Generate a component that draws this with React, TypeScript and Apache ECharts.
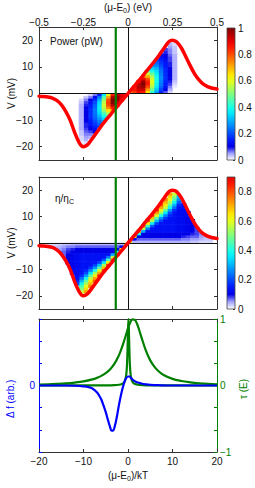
import React, { useEffect, useRef } from 'react';
import * as echarts from 'echarts';

// ---------- tick values / labels ----------
const kTTicks = [-20, -10, 0, 10, 20];
const eVTicks = [-0.5, -0.25, 0, 0.25, 0.5];
const vTicks = [-20, -10, 0, 10, 20];
const dfTicks = [-1, -2 / 3, -1 / 3, 0, 1 / 3, 2 / 3, 1];
const dfLabels = [0];
const tauLabels = [-1, 0, 1];
const cbTicksPower = [0, 0.2, 0.4, 0.6, 0.8, 1];
const cbTicksEta = [0, 0.2, 0.4, 0.6, 0.8];
const VMIN = -25;
const VMAX = 25;

// ---------- red open-circuit voltage curve (x in kT, V in mV) ----------
const redX = [-20, -19, -18, -17, -16, -15, -14, -13, -12, -11, -10.5, -10, -9.5, -9, -8, -7, -6, -5, -4, -3, -2, -1, 0, 1, 2, 3, 4, 5, 6, 7, 8, 9, 9.5, 10, 10.5, 11, 12, 13, 14, 15, 16, 17, 18, 19, 20];
const redV = [-1.0, -1.1, -1.3, -1.7, -2.6, -4.2, -6.7, -10.0, -14.6, -18.4, -19.6, -20.0, -19.7, -19.1, -16.9, -14.6, -12.2, -10.1, -8.1, -6.0, -4.0, -2.0, 0, 2.0, 4.0, 6.0, 8.1, 10.1, 12.2, 14.4, 16.8, 19.1, 19.8, 20.0, 19.8, 19.3, 17.1, 13.8, 10.4, 7.3, 5.0, 3.4, 2.5, 2.0, 1.7];
const greenLineX = -2.75;

// ---------- bottom panel ----------
const dfX = [-20, -14, -12, -10, -9, -8, -7, -6.5, -6, -5.5, -5, -4.5, -4, -3.7, -3.4, -3, -2.5, -2, -1.5, -1, -0.5, 0, 0.3, 0.6, 1, 1.5, 2, 3, 4, 5, 7, 10, 20];
const dfY = [0, 0, -0.004, -0.013, -0.022, -0.045, -0.1, -0.15, -0.21, -0.3, -0.4, -0.52, -0.63, -0.68, -0.68, -0.62, -0.47, -0.28, -0.12, 0.01, 0.1, 0.135, 0.135, 0.118, 0.09, 0.065, 0.048, 0.03, 0.018, 0.01, 0.004, 0, 0];
const tauBroadX = [-20, -18, -16, -14, -12, -10, -8, -7, -6, -5, -4, -3, -2, -1.5, -1, -0.5, 0, 0.5, 1, 1.5, 2, 2.5, 3, 4, 5, 6, 7, 8, 10, 12, 14, 16, 18, 20];
const tauBroadY = [0.015, 0.018, 0.024, 0.032, 0.044, 0.062, 0.092, 0.115, 0.145, 0.186, 0.245, 0.332, 0.461, 0.546, 0.644, 0.752, 0.859, 0.947, 0.995, 0.99, 0.932, 0.838, 0.73, 0.528, 0.378, 0.276, 0.207, 0.159, 0.1, 0.068, 0.048, 0.034, 0.024, 0.018];
const tauNarrowX = [-20, -5, -3, -2, -1.5, -1, -0.7, -0.5, -0.4, -0.3, -0.2, -0.1, 0, 0.1, 0.2, 0.3, 0.4, 0.5, 0.6, 0.7, 0.9, 1.2, 1.6, 2.2, 3.2, 5, 20];
const tauNarrowY = [0, 0.002, 0.005, 0.011, 0.018, 0.038, 0.07, 0.12, 0.16, 0.23, 0.35, 0.55, 0.83, 1.0, 0.83, 0.55, 0.35, 0.23, 0.16, 0.12, 0.07, 0.038, 0.021, 0.011, 0.005, 0.002, 0];

// ---------- heat maps: columns of 1 kT, rows of 1 mV, values in % ----------
// power, x>0, V>0 (column k = [k,k+1] kT, row j = [j,j+1] mV)
const powerUp = [
  [72],
  [82, 86, 85],
  [88, 92, 95, 95, 90],
  [85, 92, 97, 100, 98, 90, 78],
  [65, 72, 80, 85, 85, 80, 70, 58, 47],
  [42, 48, 54, 58, 60, 58, 54, 48, 40, 33, 27],
  [28, 32, 36, 38, 40, 40, 39, 37, 34, 30, 26, 23, 20],
  [16, 19, 22, 24, 25, 26, 26, 25, 24, 22, 20, 18, 16, 14, 12],
  [7, 10, 13, 15, 16, 17, 17, 17, 16, 16, 15, 14, 13, 11, 10, 9, 8],
  [2, 4, 6, 8, 9, 10, 10, 10, 10, 10, 9, 9, 8, 8, 7, 6, 6, 5, 4],
  [0, 0, 1, 2, 3, 4, 4, 4, 4, 4, 4, 4, 4, 4, 4, 3, 3, 3, 2],
];
// power, x<0, V<0 (column k = [-(k+1),-k], row j = [-(j+1),-j])
const powerDown = [
  [85],
  [90, 92, 90],
  [95, 98, 98, 95, 88],
  [85, 95, 100, 100, 95, 85, 72],
  [60, 72, 80, 82, 80, 74, 65, 55, 45],
  [35, 45, 52, 56, 58, 56, 52, 46, 40, 34, 28],
  [15, 24, 30, 34, 36, 37, 36, 34, 31, 28, 25, 22, 19],
  [6, 12, 17, 20, 22, 23, 24, 24, 23, 22, 20, 18, 16, 13, 10],
  [2, 6, 10, 13, 15, 16, 17, 17, 17, 16, 15, 14, 12, 10, 8, 6, 4],
  [0, 3, 6, 8, 9, 10, 10, 10, 10, 10, 10, 9, 9, 8, 7, 6, 5, 4, 2],
  [0, 0, 2, 3, 4, 4, 4, 4, 4, 4, 4, 4, 4, 4, 3, 3, 2, 2, 1],
];
// efficiency eta/etaC, x>0, V>0
const etaUp = [
  [60],
  [4, 12, 63],
  [4, 7, 10, 40, 75],
  [4, 7, 10, 10, 29, 56, 79],
  [4, 7, 10, 10, 13, 24, 44, 63, 81],
  [4, 7, 10, 10, 13, 13, 21, 36, 54, 69, 82],
  [4, 7, 10, 10, 13, 13, 13, 19, 31, 46, 59, 72, 84],
  [4, 7, 10, 10, 13, 13, 13, 13, 19, 27, 40, 53, 63, 72, 79],
  [4, 7, 10, 10, 13, 13, 13, 13, 13, 18, 25, 35, 47, 57, 64, 70, 75],
  [4, 7, 10, 10, 13, 13, 13, 13, 13, 13, 16, 20, 28, 38, 47, 54, 60, 66, 72],
  [4, 7, 10, 10, 13, 13, 13, 13, 13, 13, 13, 14, 17, 23, 30, 38, 45, 50, 57],
  [4, 7, 10, 10, 12, 12, 12, 12, 12, 12, 12, 12, 12, 13, 16, 21, 26, 31],
  [4, 6, 9, 10, 12, 12, 12, 12, 12, 12, 12, 12, 12, 13, 14],
  [4, 6, 8, 10, 11, 11, 11, 11, 11, 11, 11, 11],
  [3, 5, 7, 9, 10, 10, 10, 10, 10],
  [3, 5, 7, 8, 8, 8],
  [2, 4, 5, 6],
  [2, 3, 4],
  [2, 3],
];
// efficiency eta/etaC, x<0, V<0
const etaDown = [
  [60],
  [4, 12, 63],
  [4, 7, 10, 40, 75],
  [4, 7, 10, 10, 29, 56, 79],
  [4, 7, 10, 10, 13, 24, 44, 63, 81],
  [4, 7, 10, 10, 13, 13, 21, 36, 54, 69, 82],
  [4, 7, 10, 10, 13, 13, 13, 19, 31, 46, 59, 72, 84],
  [4, 7, 10, 10, 13, 13, 13, 13, 19, 27, 40, 53, 63, 72, 79],
  [4, 7, 10, 10, 13, 13, 13, 13, 13, 18, 25, 35, 47, 57, 64, 70, 75],
  [4, 7, 10, 10, 13, 13, 13, 13, 13, 13, 16, 20, 28, 38, 47, 54, 60, 66, 72],
  [4, 7, 10, 10, 13, 13, 13, 13, 13, 13, 13, 14, 17, 23, 30, 38, 45, 50, 57],
  [4, 7, 10, 10, 12, 12, 12, 12, 12, 12, 12, 12, 12, 13, 16, 20],
  [4, 6, 9, 10, 11, 11, 11, 11, 11, 11, 11, 12],
  [3, 6, 8, 9, 10, 10, 10, 10],
  [3, 5, 6, 7, 7],
  [2, 4, 5],
  [2, 3],
  [2],
];

// jet-like colormap with a white low end, stops every 0.05 from 0 to 1
const CMAP = ['#ffffff', '#a0a0ff', '#0000e6', '#001aff', '#004cff', '#0080ff', '#00b3ff', '#00e6ff', '#1affe6', '#4dffb3', '#80ff80', '#b3ff4d', '#e6ff1a', '#ffe600', '#ffb300', '#ff8000', '#ff4d00', '#ff1a00', '#e60000', '#b30000', '#800000'];

const FONT = '"Liberation Sans", Arial, Helvetica, sans-serif';
const AXC = '#333333';
const TXT = '#111111';
const BLUE = '#0000ff';
const GREEN = '#008000';

function hexRgb(c: string) {
  return [parseInt(c.slice(1, 3), 16), parseInt(c.slice(3, 5), 16), parseInt(c.slice(5, 7), 16)];
}
function cmap(v: number) {
  const t = Math.max(0, Math.min(1, v)) * (CMAP.length - 1);
  const i = Math.min(Math.floor(t), CMAP.length - 2);
  const f = t - i;
  const a = hexRgb(CMAP[i]);
  const b = hexRgb(CMAP[i + 1]);
  return 'rgb(' + a.map((x, k) => Math.round(x + (b[k] - x) * f)).join(',') + ')';
}

function cells(cols: number[][], sx: number, sy: number) {
  const out: number[][] = [];
  cols.forEach((col, k) =>
    col.forEach((p, j) => {
      if (p <= 0) return;
      const xa = sx * k, xb = sx * (k + 1), va = sy * j, vb = sy * (j + 1);
      out.push([Math.min(xa, xb), Math.max(xa, xb), Math.min(va, vb), Math.max(va, vb), p / 100]);
    })
  );
  return out;
}

const fmt = (v: number) => {
  if (Math.abs(v) < 1e-9) return '0';
  return String(Math.round(v * 1000) / 1000).replace('-', '\u2212');
};

function axis(p: any) {
  const color = p.color || AXC;
  const a: any = {
    type: 'value',
    gridIndex: p.grid,
    position: p.pos,
    min: p.min,
    max: p.max,
    show: p.show !== false,
    splitLine: { show: false },
    axisLine: { show: p.line !== false, onZero: false, lineStyle: { color, width: 1 } },
    axisTick: { show: !!p.ticks, inside: true, length: p.tickLen || 3, customValues: p.ticks, lineStyle: { color, width: 1 } },
    axisLabel: { show: !!p.labels, customValues: p.labels, margin: p.margin ?? 4, color: p.labelColor || TXT, fontSize: 10, fontFamily: FONT, formatter: fmt },
  };
  if (p.name) {
    const nc = p.nameColor || TXT;
    a.name = p.name;
    a.nameLocation = 'middle';
    a.nameGap = p.nameGap;
    a.nameRotate = p.nameRotate;
    a.nameMoveOverlap = false;
    a.nameTextStyle = {
      color: nc, fontSize: 10, fontFamily: FONT,
      rich: { s: { fontSize: 7, fontFamily: FONT, color: nc, padding: [6, 0, 0, 0] } },
    };
  }
  return a;
}

function cellRender(_params: any, api: any) {
  const a = api.coord([api.value(0), api.value(3)]);
  const b = api.coord([api.value(1), api.value(2)]);
  return {
    type: 'rect',
    shape: { x: a[0] - 0.3, y: a[1] - 0.3, width: b[0] - a[0] + 0.6, height: b[1] - a[1] + 0.6 },
    style: { fill: cmap(api.value(4)) },
  };
}

function barRender(max: number, colors: string[]) {
  return (_params: any, api: any) => {
    const a = api.coord([0, max]);
    const b = api.coord([1, 0]);
    const stops = colors.map((c, i) => ({ offset: i / (colors.length - 1), color: c }));
    return {
      type: 'rect',
      shape: { x: a[0], y: a[1], width: b[0] - a[0], height: b[1] - a[1] },
      style: { fill: new echarts.graphic.LinearGradient(0, 1, 0, 0, stops), stroke: '#444', lineWidth: 0.8 },
    };
  };
}

// rotated (bottom-to-top) label whose text starts at (x, yStart)
function rotatedLabel(text: string, x: number, yStart: number, color: string) {
  return {
    type: 'text', x, y: yStart, rotation: Math.PI / 2, z: 100,
    style: {
      text, fontSize: 10, fontFamily: FONT, fill: color,
      align: 'left', verticalAlign: 'middle', textAlign: 'left', textVerticalAlign: 'middle',
    },
  };
}

function buildOption(): any {
  const heatPower = cells(powerUp, 1, 1).concat(cells(powerDown, -1, -1));
  const heatEta = cells(etaUp, 1, 1).concat(cells(etaDown, -1, -1));
  const red = redX.map((x, i) => [x, redV[i]]);
  const zeroLines = {
    silent: true,
    symbol: ['none', 'none'],
    label: { show: false },
    lineStyle: { color: '#111', width: 1, type: 'solid' },
    data: [{ xAxis: 0 }, { yAxis: 0 }],
  };
  const redSeries = (xi: number, yi: number) => ({
    type: 'line', xAxisIndex: xi, yAxisIndex: yi, data: red, showSymbol: false, smooth: 0.3,
    lineStyle: { color: '#ff0000', width: 3.5, cap: 'round' }, z: 10, silent: true, markLine: zeroLines,
  });
  const greenV = (xi: number, yi: number) => ({
    type: 'line', xAxisIndex: xi, yAxisIndex: yi, data: [[greenLineX, VMIN], [greenLineX, VMAX]], showSymbol: false,
    lineStyle: { color: GREEN, width: 2.2 }, z: 12, silent: true,
  });

  return {
    animation: false,
    backgroundColor: '#ffffff',
    textStyle: { fontFamily: FONT },
    grid: [
      { left: 39, top: 27, width: 178, height: 133, outerBoundsMode: 'none' },
      { left: 39, top: 177, width: 178, height: 132, outerBoundsMode: 'none' },
      { left: 39, top: 319, width: 178, height: 133, outerBoundsMode: 'none' },
      { left: 227, top: 28, width: 8, height: 132, outerBoundsMode: 'none' },
      { left: 227, top: 177, width: 8, height: 132, outerBoundsMode: 'none' },
    ],
    xAxis: [
      axis({ grid: 0, pos: 'bottom', min: -20, max: 20, ticks: kTTicks }),
      axis({ grid: 0, pos: 'top', min: -0.5, max: 0.5, ticks: eVTicks, labels: eVTicks, margin: 0, name: '(μ-E{s|0}) (eV)', nameGap: 13 }),
      axis({ grid: 1, pos: 'bottom', min: -20, max: 20, ticks: kTTicks }),
      axis({ grid: 1, pos: 'top', min: -20, max: 20, ticks: kTTicks }),
      axis({ grid: 2, pos: 'bottom', min: -20, max: 20, ticks: kTTicks, labels: kTTicks, margin: 4, name: '(μ-E{s|0})/kT', nameGap: 17 }),
      axis({ grid: 2, pos: 'top', min: -20, max: 20, ticks: kTTicks }),
      axis({ grid: 3, pos: 'bottom', min: 0, max: 1, show: false }),
      axis({ grid: 4, pos: 'bottom', min: 0, max: 1, show: false }),
    ],
    yAxis: [
      axis({ grid: 0, pos: 'left', min: VMIN, max: VMAX, ticks: vTicks, labels: vTicks, margin: 6, name: 'V (mV)', nameGap: 23, nameRotate: 90 }),
      axis({ grid: 0, pos: 'right', min: VMIN, max: VMAX, ticks: vTicks }),
      axis({ grid: 1, pos: 'left', min: VMIN, max: VMAX, ticks: vTicks, labels: vTicks, margin: 6, name: 'V (mV)', nameGap: 23, nameRotate: 90 }),
      axis({ grid: 1, pos: 'right', min: VMIN, max: VMAX, ticks: vTicks }),
      axis({ grid: 2, pos: 'left', min: -1, max: 1, ticks: dfTicks, labels: dfLabels, margin: 4, color: BLUE, labelColor: BLUE }),
      axis({ grid: 2, pos: 'right', min: -1, max: 1, ticks: dfTicks, labels: tauLabels, margin: 3, color: GREEN, labelColor: GREEN }),
      axis({ grid: 3, pos: 'right', min: 0, max: 1, ticks: cbTicksPower, labels: cbTicksPower, margin: 3, line: false, tickLen: 2 }),
      axis({ grid: 4, pos: 'right', min: 0, max: 0.9, ticks: cbTicksEta, labels: cbTicksEta, margin: 3, line: false, tickLen: 2 }),
    ],
    graphic: [
      { type: 'text', left: 50, top: 36, z: 100, style: { text: 'Power (pW)', fontSize: 10, fontFamily: FONT, fill: TXT } },
      {
        type: 'text', left: 55, top: 193, z: 100,
        style: {
          text: '{a|η/η}{s|C}', fill: TXT,
          rich: { a: { fontSize: 10, fontFamily: FONT, fill: TXT }, s: { fontSize: 7, fontFamily: FONT, fill: TXT, padding: [6, 0, 0, 0] } },
        },
      },
      rotatedLabel('Δ f (arb.)', 10, 418, BLUE),
      rotatedLabel('τ (E)', 243, 399, GREEN),
    ],
    series: [
      { type: 'custom', xAxisIndex: 0, yAxisIndex: 0, data: heatPower, renderItem: cellRender, silent: true, z: 1, encode: { x: [0, 1], y: [2, 3] } },
      { type: 'custom', xAxisIndex: 2, yAxisIndex: 2, data: heatEta, renderItem: cellRender, silent: true, z: 1, encode: { x: [0, 1], y: [2, 3] } },
      redSeries(0, 0),
      redSeries(2, 2),
      greenV(0, 0),
      greenV(2, 2),
      { type: 'custom', xAxisIndex: 6, yAxisIndex: 6, data: [[0, 0]], renderItem: barRender(1, CMAP), silent: true, z: 1 },
      { type: 'custom', xAxisIndex: 7, yAxisIndex: 7, data: [[0, 0]], renderItem: barRender(0.9, CMAP.slice(0, 19)), silent: true, z: 1 },
      {
        type: 'line', xAxisIndex: 4, yAxisIndex: 5, data: tauBroadX.map((x, i) => [x, tauBroadY[i]]), showSymbol: false, smooth: 0.4,
        lineStyle: { color: GREEN, width: 2.2 }, z: 5, silent: true,
      },
      {
        type: 'line', xAxisIndex: 4, yAxisIndex: 5, data: tauNarrowX.map((x, i) => [x, tauNarrowY[i]]), showSymbol: false, smooth: 0.3,
        lineStyle: { color: GREEN, width: 2.2 }, z: 5, silent: true,
      },
      {
        type: 'line', xAxisIndex: 4, yAxisIndex: 4, data: dfX.map((x, i) => [x, dfY[i]]), showSymbol: false, smooth: 0.4,
        lineStyle: { color: BLUE, width: 2.2 }, z: 6, silent: true,
      },
    ],
  };
}

export default function App() {
  const ref = useRef<HTMLDivElement>(null);
  useEffect(() => {
    const chart = echarts.init(ref.current!, null, { renderer: 'svg' });
    chart.setOption(buildOption());
    return () => chart.dispose();
  }, []);
  return <div ref={ref} style={{ position: 'absolute', left: 0, top: 0, width: 255, height: 488, background: '#fff' }} />;
}
